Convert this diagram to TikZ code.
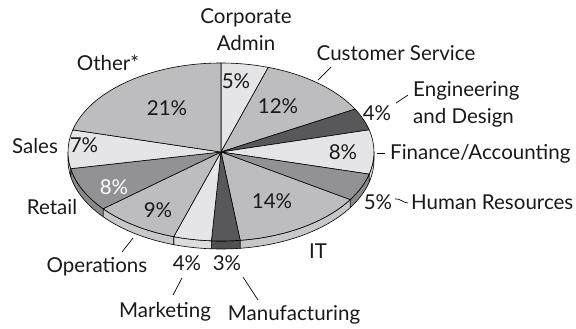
\documentclass[tikz,border=0pt]{standalone}
\usepackage{fontspec}
\setmainfont{Lato}
\definecolor{pLight}{HTML}{E5E5E7}
\definecolor{pMid}{HTML}{BDBDBF}
\definecolor{pDk}{HTML}{929294}
\definecolor{pDark}{HTML}{58585A}
\definecolor{sLight}{HTML}{DCDCDE}
\definecolor{sMid}{HTML}{C8C8CA}
\definecolor{sDk}{HTML}{88888A}
\definecolor{sDark}{HTML}{505052}
\newcommand{\pieslice}[3]{\filldraw[slice,fill=#3] (C) -- ({221+153*cos(#1)},{176+89*sin(#1)}) arc[start angle=#1, end angle=#2, x radius=153, y radius=89] -- cycle;}
\newcommand{\sidepiece}[3]{\filldraw[slice,fill=#3] ({221+153*cos(#1)},{176+89*sin(#1)}) arc[start angle=#1, end angle=#2, x radius=153, y radius=89] -- ++(0,-8) arc[start angle=#2, end angle=#1, x radius=153, y radius=89] -- cycle;}
\begin{document}
\begin{tikzpicture}[x=1bp,y=1bp,
  slice/.style={draw=black, line width=0.6bp, line join=round},
  lab/.style={font=\fontsize{20.6}{26.5}\selectfont, inner sep=0pt, text=black!90},
  leader/.style={draw=black, line width=0.7bp}]
\useasboundingbox (0,0) rectangle (576,328);
\coordinate (C) at (221,176);
% side walls
\sidepiece{0}{-14.4}{sLight}
\sidepiece{-14.4}{-32.4}{sDk}
\sidepiece{-32.4}{-82.8}{sMid}
\sidepiece{-82.8}{-93.6}{sDark}
\sidepiece{-93.6}{-108}{sLight}
\sidepiece{-108}{-140.4}{sMid}
\sidepiece{-140.4}{-169.2}{sDk}
\sidepiece{-169.2}{-180}{sLight}
% top slices
\pieslice{90}{72}{pLight}
\pieslice{72}{28.8}{pMid}
\pieslice{28.8}{14.4}{pDark}
\pieslice{14.4}{-14.4}{pLight}
\pieslice{-14.4}{-32.4}{pDk}
\pieslice{-32.4}{-82.8}{pMid}
\pieslice{-82.8}{-93.6}{pDark}
\pieslice{-93.6}{-108}{pLight}
\pieslice{-108}{-140.4}{pMid}
\pieslice{-140.4}{-169.2}{pDk}
\pieslice{-169.2}{-194.4}{pLight}
\pieslice{-194.4}{-270}{pMid}
% percentages
\node[lab, anchor=base] (p21) at (167,{328-115}) {21\%};
\node[lab, anchor=base] (p5a) at (236,{328-88}) {5\%};
\node[lab, anchor=base] (p12) at (278,{328-113}) {12\%};
\node[lab, anchor=base] (p4a) at (377,{328-120}) {4\%};
\node[lab, anchor=base] (p8a) at (343,{328-159}) {8\%};
\node[lab, anchor=base] (p5b) at (378,{328-209}) {5\%};
\node[lab, anchor=base] (p14) at (272,{328-208}) {14\%};
\node[lab, anchor=base] (p3) at (227,{328-270}) {3\%};
\node[lab, anchor=base] (p4b) at (187,{328-270}) {4\%};
\node[lab, anchor=base] (p9) at (158,{328-217}) {9\%};
\node[lab, anchor=base, text=white] (p8b) at (114,{328-194}) {8\%};
\node[lab, anchor=base] (p7) at (84,{328-152}) {7\%};
% names
\node[lab, align=center, anchor=base] (corp) at (246,{328-50}) {Corporate\\Admin};
\node[lab, anchor=base] (cust) at (396,{328-60}) {Customer Service};
\node[lab, align=left, anchor=base west] (eng) at (413,{328-123}) {Engineering\\and Design};
\node[lab, anchor=base west] (fin) at (390,{328-159}) {Finance/Accounting};
\node[lab, anchor=base west] (hr) at (411,{328-209}) {Human Resources};
\node[lab, anchor=base] (it) at (318,{328-258}) {IT};
\node[lab, anchor=base] (manu) at (294,{328-320}) {Manufacturing};
\node[lab, anchor=base] (mark) at (165,{328-317}) {Marketing};
\node[lab, anchor=base] (ops) at (97,{328-272}) {Operations};
\node[lab, anchor=base] (ret) at (52,{328-214}) {Retail};
\node[lab, anchor=base] (sales) at (35,{328-153}) {Sales};
\node[lab, anchor=base] (oth) at (108,{328-70}) {Other*};
% leaders
\coordinate (c1) at (318,{328-80}); \coordinate (c2) at (331,{328-67});
\draw[leader] (c1) -- (c2);
\coordinate (e1) at (396,{328-103}); \coordinate (e2) at (408,{328-95});
\draw[leader] (e1) -- (e2);
\coordinate (f1) at (377,{328-153}); \coordinate (f2) at (385,{328-153});
\draw[leader] (f1) -- (f2);
\coordinate (h1) at (395,{328-199}); \coordinate (h2) at (408,{328-203});
\draw[leader] (h1) .. controls (400,{328-198}) and (403,{328-203}) .. (h2);
\coordinate (o1) at (122,{328-252}); \coordinate (o2) at (133,{328-238});
\draw[leader] (o1) -- (o2);
\coordinate (m1) at (173,{328-295}); \coordinate (m2) at (182,{328-278});
\draw[leader] (m1) -- (m2);
\coordinate (n1) at (243,{328-277}); \coordinate (n2) at (258,{328-300});
\draw[leader] (n1) -- (n2);
\end{tikzpicture}
\end{document}
